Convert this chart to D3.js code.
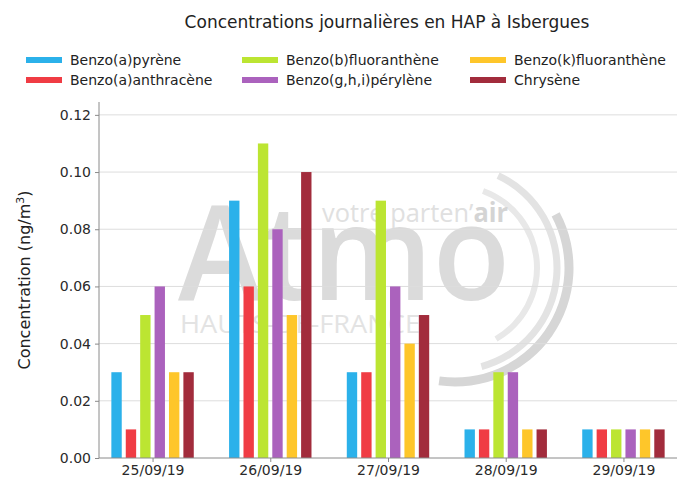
<!DOCTYPE html>
<html>
<head>
<meta charset="utf-8">
<script src="https://cdn.jsdelivr.net/npm/d3@7"></script>
<style>
  body { margin: 0; background: #fff; }
  text { font-family: "DejaVu Sans", sans-serif; }
</style>
</head>
<body>
<div id="chart"></div>
<script>
const dates = ['25/09/19', '26/09/19', '27/09/19', '28/09/19', '29/09/19'];
const seriesNames = [
  'Benzo(a)pyrène',
  'Benzo(a)anthracène',
  'Benzo(b)fluoranthène',
  'Benzo(g,h,i)pérylène',
  'Benzo(k)fluoranthène',
  'Chrysène',
];
const benzoAPyrene = [0.03, 0.09, 0.03, 0.01, 0.01];
const benzoAAnthracene = [0.01, 0.06, 0.03, 0.01, 0.01];
const benzoBFluoranthene = [0.05, 0.11, 0.09, 0.03, 0.01];
const benzoGHIPerylene = [0.06, 0.08, 0.06, 0.03, 0.01];
const benzoKFluoranthene = [0.03, 0.05, 0.04, 0.01, 0.01];
const chrysene = [0.03, 0.10, 0.05, 0.01, 0.01];
const yTicks = [0, 0.02, 0.04, 0.06, 0.08, 0.10, 0.12];

const seriesValues = [
  benzoAPyrene,
  benzoAAnthracene,
  benzoBFluoranthene,
  benzoGHIPerylene,
  benzoKFluoranthene,
  chrysene,
];
const chartColors = ['#2bb1ea', '#f03c44', '#bce532', '#ab62bd', '#fec62a', '#a22c3c'];

const width = 684;
const height = 477;
const margin = { top: 102, right: 7, bottom: 19, left: 99 };
const plotW = width - margin.left - margin.right;
const plotH = height - margin.top - margin.bottom;

const svg = d3.select('#chart')
  .append('svg')
  .attr('width', width)
  .attr('height', height);

// Title
svg.append('text')
  .attr('x', 387)
  .attr('y', 28)
  .attr('text-anchor', 'middle')
  .attr('font-size', 17)
  .attr('fill', '#222')
  .text('Concentrations journalières en HAP à Isbergues');

// Legend (3 columns x 2 rows, column-major order)
const legendCols = [26, 242, 470];
const legendRows = [60, 80];
const legend = svg.append('g');
seriesNames.forEach((name, i) => {
  const cx = legendCols[Math.floor(i / 2)];
  const cy = legendRows[i % 2];
  legend.append('rect')
    .attr('x', cx)
    .attr('y', cy - 3)
    .attr('width', 36)
    .attr('height', 6)
    .attr('fill', chartColors[i]);
  legend.append('text')
    .attr('x', cx + 44)
    .attr('y', cy + 5)
    .attr('font-size', 14)
    .attr('fill', '#222')
    .text(name);
});

const g = svg.append('g')
  .attr('transform', `translate(${margin.left}, ${margin.top})`);

// Scales
const x = d3.scalePoint()
  .domain(dates)
  .range([0, plotW])
  .padding(0.455);

const xSub = d3.scaleBand()
  .domain(seriesNames)
  .range([-0.35 * x.step(), 0.35 * x.step()])
  .paddingInner(0.28);

const y = d3.scaleLinear()
  .domain([0, 0.1245])
  .range([plotH, 0]);

// Watermark (behind everything in the plot)
const wm = g.append('g').attr('transform', `translate(${-margin.left}, ${-margin.top})`);
const arc = d3.arc();
const arcs = [
  { r: 82, w: 6, a0: 20, a1: 150, c: '#e8e8e8' },
  { r: 102, w: 7, a0: 25, a1: 165, c: '#e3e3e3' },
  { r: 114, w: 9, a0: 62, a1: 188, c: '#d6d6d6' },
];
arcs.forEach(a => {
  wm.append('path')
    .attr('transform', 'translate(455, 268)')
    .attr('fill', a.c)
    .attr('d', arc({
      innerRadius: a.r - a.w / 2,
      outerRadius: a.r + a.w / 2,
      startAngle: a.a0 * Math.PI / 180,
      endAngle: a.a1 * Math.PI / 180,
      cornerRadius: a.w / 2,
    }));
});
wm.append('text')
  .attr('x', 178)
  .attr('y', 300)
  .attr('font-size', 132)
  .attr('font-weight', 600)
  .style('font-family', '"Open Sans", sans-serif')
  .attr('fill', '#dbdbdb')
  .attr('textLength', 332)
  .attr('lengthAdjust', 'spacingAndGlyphs')
  .text('Atmo');
const tagline = wm.append('text')
  .attr('x', 322)
  .attr('y', 222)
  .attr('font-size', 26)
  .style('font-family', '"Open Sans", sans-serif')
  .attr('fill', '#e0e0e0')
  .attr('textLength', 186)
  .attr('lengthAdjust', 'spacingAndGlyphs');
tagline.append('tspan').text('votre parten\u2019');
tagline.append('tspan').attr('font-weight', 'bold').attr('fill', '#d4d4d4').text('air');
wm.append('text')
  .attr('x', 180)
  .attr('y', 333)
  .attr('font-size', 25)
  .style('font-family', '"Open Sans", sans-serif')
  .attr('fill', '#e3e3e3')
  .attr('textLength', 240)
  .attr('lengthAdjust', 'spacingAndGlyphs')
  .text('HAUTS-DE-FRANCE');

// Gridlines
g.append('g')
  .selectAll('line')
  .data(yTicks.filter(t => t > 0))
  .enter()
  .append('line')
  .attr('x1', 0)
  .attr('x2', plotW)
  .attr('y1', d => y(d))
  .attr('y2', d => y(d))
  .attr('stroke', '#dddddd')
  .attr('stroke-width', 1);

// Bars
const groups = g.selectAll('g.group')
  .data(dates)
  .enter()
  .append('g')
  .attr('class', 'group')
  .attr('transform', d => `translate(${x(d)}, 0)`);

groups.selectAll('rect')
  .data((d, di) => seriesNames.map((s, si) => ({ s, si, v: seriesValues[si][di] })))
  .enter()
  .append('rect')
  .attr('x', d => xSub(d.s))
  .attr('width', xSub.bandwidth())
  .attr('y', d => y(d.v))
  .attr('height', d => y(0) - y(d.v))
  .attr('fill', d => chartColors[d.si]);

// Axes
const yG = g.append('g')
  .call(d3.axisLeft(y).tickValues(yTicks).tickFormat(d3.format('.2f')).tickSize(4).tickPadding(4));
const xG = g.append('g')
  .attr('transform', `translate(0, ${plotH})`)
  .call(d3.axisBottom(x).tickSize(4).tickPadding(3));

[yG, xG].forEach(ax => {
  ax.select('.domain').attr('stroke', '#8a8a8a');
  ax.selectAll('.tick line').attr('stroke', '#8a8a8a');
  ax.selectAll('.tick text')
    .attr('font-size', 14)
    .attr('fill', '#2a2a2a')
    .style('font-family', '"DejaVu Sans", sans-serif');
});
xG.select('.domain').attr('d', `M0,0H${plotW}`);
yG.select('.domain').attr('d', `M0,${plotH}V0`);

// Y axis label
const yLabel = svg.append('text')
  .attr('transform', 'translate(30, 280) rotate(-90)')
  .attr('text-anchor', 'middle')
  .attr('font-size', 16)
  .attr('fill', '#222');
yLabel.append('tspan').text('Concentration (ng/m');
yLabel.append('tspan').attr('font-size', 11).attr('dy', -6).text('3');
yLabel.append('tspan').attr('dy', 6).text(')');
</script>
</body>
</html>
